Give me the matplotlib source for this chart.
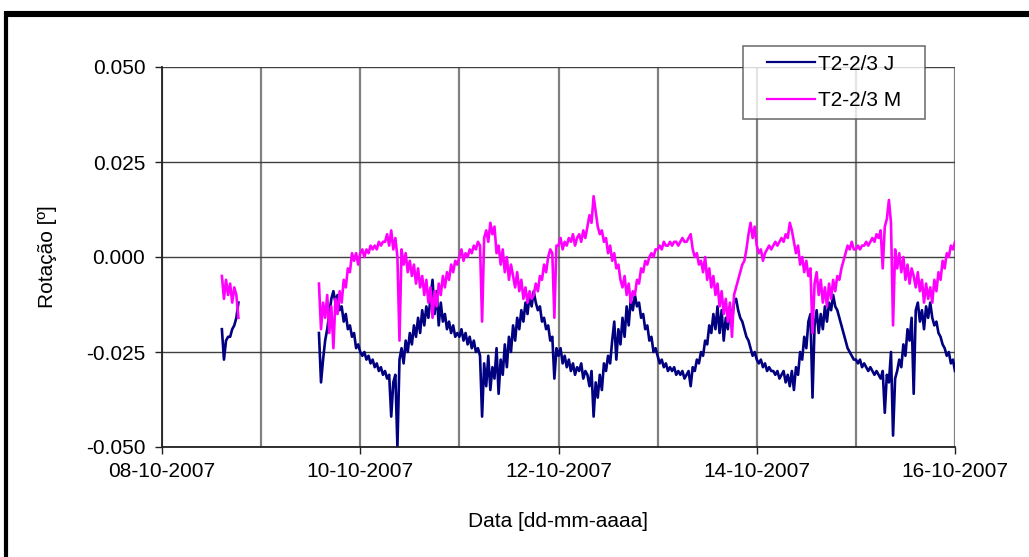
import matplotlib
matplotlib.use("Agg")
import matplotlib.pyplot as plt
import matplotlib.dates as mdates
from matplotlib.lines import Line2D
from matplotlib.legend_handler import HandlerLine2D
import numpy as np
import pandas as pd

plt.rcParams['font.family'] = ['Liberation Sans', 'DejaVu Sans']

# leituras de 30 em 30 min, em milésimos de grau
inicio_1 = "2007-10-08 14:30"
j_1 = [-19, -27, -22, -21, -21, -19, -18, -16, -12]
m_1 = [-5, -11, -6, -10, -7, -12, -8, -10, -16]

inicio_2 = "2007-10-09 14:00"
j_2 = [-20, -33, -27, -22, -19, -15, -11, -9, -12, -10, -14, -13, -17, -15, -19, -18, -21, -20, -24, -23,
       -25, -26, -25, -27, -26, -28, -27, -29, -28, -30, -29, -31, -30, -32, -31, -42, -33, -31, -50, -27,
       -24, -28, -22, -25, -20, -23, -18, -21, -16, -20, -14, -18, -13, -16, -11, -6, -15, -9, -18, -12,
       -17, -15, -19, -17, -20, -18, -21, -20,
       -21, -19, -22, -20, -23, -21, -24, -22, -25, -24, -26, -42, -28, -34, -26, -35, -29, -32, -24, -36,
       -27, -31, -23, -29, -21, -25, -18, -22, -16, -19, -14, -17, -12, -15, -10, -13, -9, -12, -14, -13,
       -17, -16, -19, -18, -22, -21, -32, -24,
       -26, -24, -28, -26, -29, -27, -30, -28, -31, -29, -30, -28, -32, -30, -31, -34, -30, -42, -33, -37,
       -31, -35, -28, -30, -26, -28, -22, -17, -27, -19, -23, -16, -21, -13, -18, -11, -14, -10, -13, -12,
       -16, -15, -19, -18, -22, -21, -25, -24,
       -26, -28, -27, -29, -28, -30, -29, -30, -29, -31, -30, -31, -30, -32, -31, -30, -34, -29, -30, -27,
       -28, -25, -26, -22, -23, -18, -20, -15, -19, -13, -20, -14, -22, -16, -19, -13, -17, -12, -11, -14,
       -16, -17, -19, -21, -22, -24, -26, -25,
       -27, -28, -27, -29, -28, -30, -29, -30, -30, -31, -30, -32, -31, -30, -33, -31, -34, -30, -35, -29,
       -31, -25, -27, -21, -24, -17, -15, -37, -18, -14, -20, -15, -19, -13, -17, -12, -14, -10, -13, -14,
       -16, -18, -20, -22, -24, -25, -26, -27,
       -27, -28, -27, -29, -28, -29, -30, -29, -30, -31, -30, -31, -32, -30, -41, -31, -33, -25, -47, -32,
       -30, -27, -29, -23, -26, -19, -22, -16, -36, -14, -12, -17, -14, -19, -13, -16, -12, -16, -18, -17,
       -20, -21, -23, -24, -26, -25, -28, -27, -30]
m_2 = [-7, -19, -12, -16, -10, -20, -13, -24, -11, -15, -9, -12, -6, -8, -3, -4, 1, -1, 1, -2,
       1, 2, 0, 2, 1, 3, 2, 3, 2, 4, 3, 4, 4, 6, 3, 7, 2, 5, 0, -22,
       2, -2, 1, -4, -1, -5, -2, -7, -3, -8, -5, -10, -6, -12, -8, -16, -9, -13, -7, -10,
       -5, -8, -4, -6, -2, -4, -1, -2,
       0, 2, -1, 1, 0, 2, 1, 3, 2, 4, 3, -17, 5, 7, 4, 9, 6, 8, 1, 3,
       -2, 2, -4, 0, -6, -2, -5, -8, -4, -9, -6, -11, -8, -12, -9, -11, -10, -7, -9, -5,
       -6, -2, -4, 0, 2, 1, -16, 3,
       3, 5, 2, 4, 3, 5, 4, 6, 3, 5, 6, 4, 7, 5, 8, 11, 9, 16, 12, 8,
       6, 7, 4, 5, 1, 3, -1, 1, -3, -2, -6, -8, -5, -10, -7, -12, -9, -10, -6, -7,
       -3, -4, -1, -2, 0, 1, 0, 2,
       2, 3, 2, 4, 3, 3, 4, 3, 4, 4, 3, 4, 5, 4, 4, 5, 6, 2, 0, 1,
       -2, -1, -4, 0, -6, -3, -8, -5, -10, -7, -13, -9, -15, -11, -17, -12, -21, -10, -8, -6,
       -4, -2, -1, 2, 6, 9, 5, 8,
       3, 1, 2, -1, 1, 2, 3, 2, 3, 4, 3, 4, 5, 4, 6, 5, 9, 7, 4, 1,
       3, -2, 0, -4, -1, -5, -3, -20, -7, -4, -10, -6, -12, -8, -13, -7, -11, -6, -9, -5,
       -6, -3, -1, 1, 3, 2, 4, 2,
       2, 3, 2, 3, 3, 4, 3, 4, 5, 4, 6, 5, 7, -3, 8, 10, 15, 9, -18, 2,
       -3, 1, -4, 0, -6, -2, -7, -3, -5, -8, -4, -9, -6, -12, -7, -11, -8, -12, -6, -9,
       -4, -6, -1, -3, 1, 0, 3, 2, 4]

nomes = ["T2-2/3 J", "T2-2/3 M"]
cores = ["#000080", "#FF00FF"]

t1 = pd.date_range(inicio_1, periods=len(j_1), freq="30min")
t2 = pd.date_range(inicio_2, periods=len(j_2), freq="30min")

fs = 15

fig = plt.figure(figsize=(10.29, 5.57), dpi=100)
ax = fig.add_axes([162 / 1029, 1 - 447 / 557, 793 / 1029, 380 / 557])

for serie_1, serie_2, nome, cor in zip([j_1, m_1], [j_2, m_2], nomes, cores):
    ax.plot(t1, np.array(serie_1) / 1000, color=cor, lw=1.9)
    ax.plot(t2, np.array(serie_2) / 1000, color=cor, lw=1.9, label=nome)

ax.set_xlim(pd.Timestamp("2007-10-08"), pd.Timestamp("2007-10-16"))
ax.set_ylim(-0.05, 0.05)
ax.set_yticks([-0.05, -0.025, 0, 0.025, 0.05])
ax.yaxis.set_major_formatter(matplotlib.ticker.FormatStrFormatter('%.3f'))
ax.xaxis.set_major_locator(mdates.DayLocator(interval=2))
ax.xaxis.set_minor_locator(mdates.DayLocator())
ax.xaxis.set_major_formatter(mdates.DateFormatter('%d-%m-%Y'))

ax.grid(True, axis='y', color='#404040', lw=1.0)
ax.grid(True, axis='x', which='both', color='#808080', lw=1.6)
ax.set_axisbelow(True)
for s in ['top', 'right']:
    ax.spines[s].set_visible(False)
for s in ['left', 'bottom']:
    ax.spines[s].set_linewidth(1.3)
    ax.spines[s].set_color('#202020')

ax.tick_params(axis='both', which='major', direction='out', length=5, width=1, labelsize=fs, color='#202020')
ax.tick_params(axis='x', which='minor', length=0)
ax.tick_params(axis='x', pad=6)
ax.tick_params(axis='y', pad=7)

ax.set_xlabel("Data [dd-mm-aaaa]", fontsize=fs)
ax.xaxis.set_label_coords(0.5, -0.195)
ax.xaxis.label.set_va('center')
ax.set_ylabel("Rotação [º]", fontsize=fs)
ax.yaxis.set_label_coords(-0.145, 0.5)
ax.yaxis.label.set_va('center')

# legenda em caixa fixa, com a linha recuada da margem esquerda
leg = ax.legend(loc='upper left', bbox_to_anchor=(743 / 1029, 1 - 120 / 557, 182 / 1029, 74 / 557),
                bbox_transform=fig.transFigure, mode='expand',
                handler_map={Line2D: HandlerLine2D(xpad=0.73)},
                fontsize=fs, frameon=True, fancybox=False, handlelength=3.04, borderpad=0.42,
                labelspacing=0.85, handletextpad=0.15, borderaxespad=0)
leg.get_frame().set_edgecolor('#505050')
leg.get_frame().set_linewidth(1.2)
for h in leg.get_lines():
    h.set_linewidth(1.6)

# moldura do gráfico
fig.add_artist(Line2D([5.5 / 1029, 1], [1 - 14 / 557, 1 - 14 / 557], color='black', lw=4.4,
                      transform=fig.transFigure, solid_capstyle='butt'))
fig.add_artist(Line2D([5.5 / 1029, 5.5 / 1029], [0, 1 - 11 / 557], color='black', lw=3,
                      transform=fig.transFigure, solid_capstyle='butt'))

fig.savefig("out.png", dpi=100)
